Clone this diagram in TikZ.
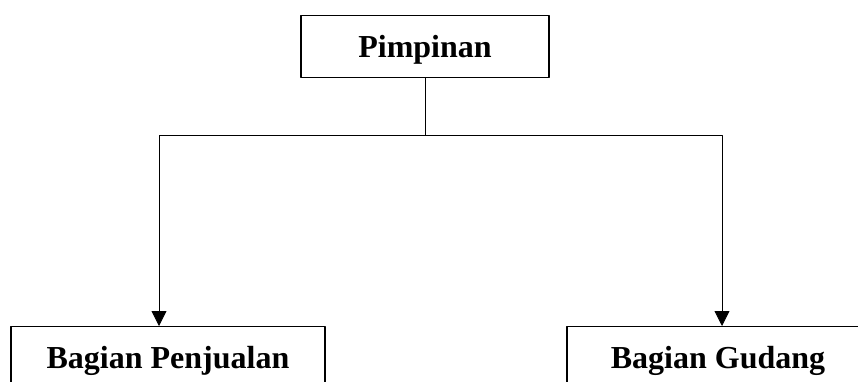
\documentclass[tikz,border=0pt]{standalone}
\usepackage{fontspec}
\setmainfont{Liberation Serif}
\usetikzlibrary{arrows.meta}
\tikzset{
  kotak/.style={draw,line width=1.2pt,inner sep=0pt,text height=42pt,
    font=\fontsize{32}{38}\selectfont\bfseries},
  panah/.style={line width=0.8pt,-{Triangle[width=15pt,length=15pt]}}
}
\begin{document}
\begin{tikzpicture}[x=1pt,y=-1pt,line cap=round,line join=round]
      \useasboundingbox (0,0) rectangle (858,382);
      \node[kotak,text depth=20pt,minimum width=248pt,anchor=north] (pimpinan) at (425,15) {Pimpinan};
      \node[kotak,text depth=38pt,minimum width=314pt,anchor=north] (penjualan) at (168,326) {Bagian Penjualan};
      \node[kotak,text depth=38pt,minimum width=302pt,anchor=north] (gudang) at (718,326) {Bagian Gudang};
      \coordinate (cabang) at (pimpinan.south |- 0,135);

      \draw[line width=0.8pt] (pimpinan.south) -- (cabang);
      \draw[panah] (cabang) -| ([xshift=-9pt]penjualan.north);
      \draw[panah] (cabang) -| ([xshift=4pt]gudang.north);
      \end{tikzpicture}
\end{document}
